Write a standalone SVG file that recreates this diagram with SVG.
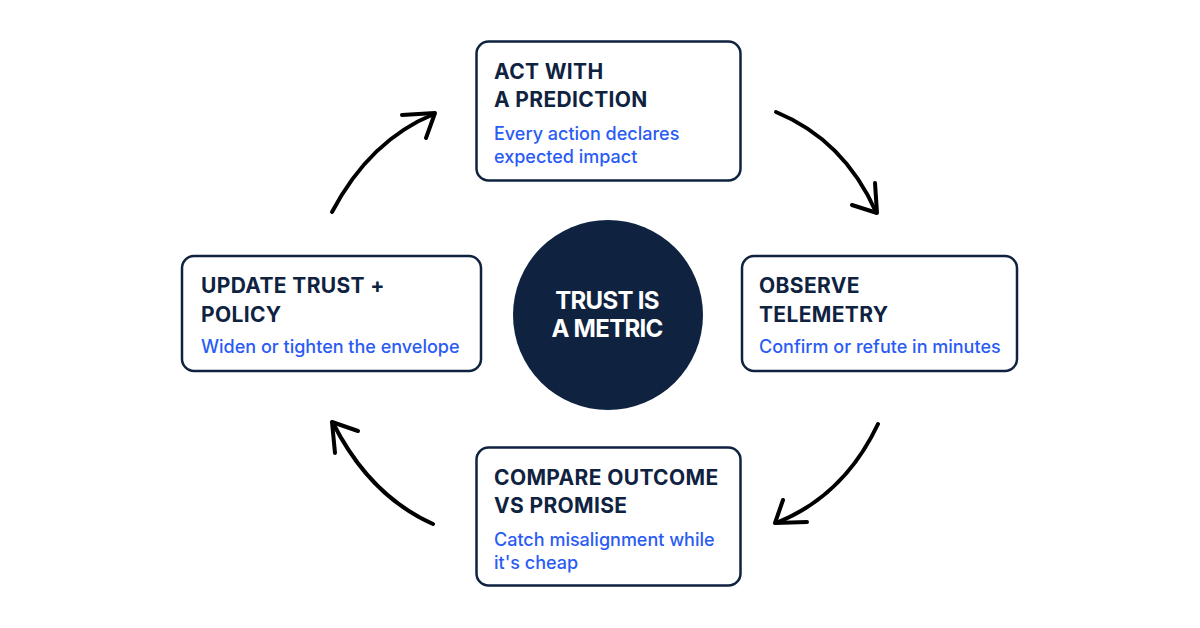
<svg xmlns="http://www.w3.org/2000/svg" width="1200" height="628" viewBox="0 0 1200 628">
<style>
.box{fill:#ffffff;stroke:#0f2341;stroke-width:2.5}
.t{font-family:Inter,"Liberation Sans",sans-serif;font-weight:700;font-size:21px;fill:#0f2341;letter-spacing:0.35px}
.s{font-family:Inter,"Liberation Sans",sans-serif;font-weight:500;font-size:18px;fill:#2a5bf5;letter-spacing:0px}
.c{font-family:Inter,"Liberation Sans",sans-serif;font-weight:700;font-size:24px;fill:#ffffff;letter-spacing:-0.7px}
.arr{fill:none;stroke:#000000;stroke-width:4;stroke-linecap:round;stroke-linejoin:round}
</style>
<rect width="1200" height="628" fill="#ffffff"/>
<g id="connectors">
<path class="arr" d="M776,112 Q844,140 876,212"/>
<polyline class="arr" points="875,183 877,213 852,205"/>
<path class="arr" d="M878,424 Q844,496 776,523"/>
<polyline class="arr" points="783,500 775,523 807,522"/>
<path class="arr" d="M433,524 Q370,496 333,423"/>
<polyline class="arr" points="358,431 332,422 335,453"/>
<path class="arr" d="M332,212 Q370,140 434,114"/>
<polyline class="arr" points="402,115 435,113 426,138"/>
</g>
<g id="center">
<circle cx="608" cy="315" r="95" fill="#0f2341"/>
<text class="c" x="607" y="309" text-anchor="middle">TRUST IS</text>
<text class="c" x="607" y="337" text-anchor="middle">A METRIC</text>
</g>
<g id="act">
<rect class="box" x="476.5" y="41.5" width="264" height="139" rx="12"/>
<text class="t" x="494" y="79">ACT WITH</text>
<text class="t" x="494" y="107">A PREDICTION</text>
<text class="s" x="494" y="140">Every action declares</text>
<text class="s" x="494" y="163">expected impact</text>
</g>
<g id="observe">
<rect class="box" x="742" y="256" width="275" height="115" rx="12"/>
<text class="t" x="759" y="293">OBSERVE</text>
<text class="t" x="759" y="322">TELEMETRY</text>
<text class="s" x="759" y="353">Confirm or refute in minutes</text>
</g>
<g id="compare">
<rect class="box" x="476.5" y="447.5" width="264" height="138" rx="12"/>
<text class="t" x="494" y="485">COMPARE OUTCOME</text>
<text class="t" x="494" y="513">VS PROMISE</text>
<text class="s" x="494" y="546">Catch misalignment while</text>
<text class="s" x="494" y="569">it's cheap</text>
</g>
<g id="update">
<rect class="box" x="182" y="256" width="299" height="115" rx="12"/>
<text class="t" x="201" y="293">UPDATE TRUST +</text>
<text class="t" x="201" y="322">POLICY</text>
<text class="s" x="201" y="353">Widen or tighten the envelope</text>
</g>
</svg>
